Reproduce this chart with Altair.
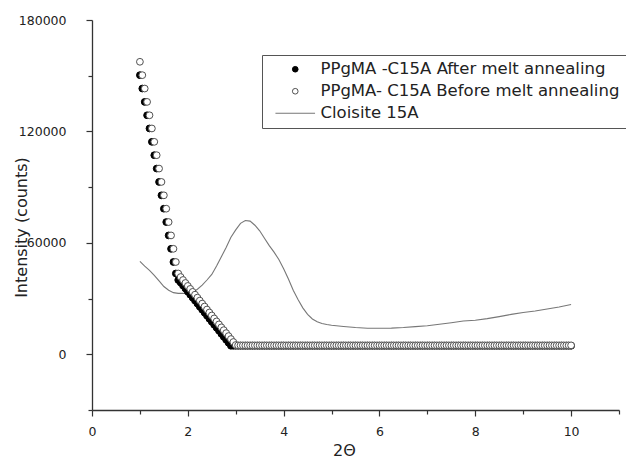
import altair as alt
import pandas as pd

# 2-theta sampling of the two PPgMA scans
two_theta = [
    1.0, 1.05, 1.1, 1.15, 1.2, 1.25, 1.3, 1.35, 1.4, 1.45, 1.5, 1.55, 1.6, 1.65, 1.7, 1.75, 1.8, 1.85, 1.9, 1.95,
    2.0, 2.05, 2.1, 2.15, 2.2, 2.25, 2.3, 2.35, 2.4, 2.45, 2.5, 2.55, 2.6, 2.65, 2.7, 2.75, 2.8, 2.85, 2.9, 2.95,
    3.0, 3.05, 3.1, 3.15, 3.2, 3.25, 3.3, 3.35, 3.4, 3.45, 3.5, 3.55, 3.6, 3.65, 3.7, 3.75, 3.8, 3.85, 3.9, 3.95,
    4.0, 4.05, 4.1, 4.15, 4.2, 4.25, 4.3, 4.35, 4.4, 4.45, 4.5, 4.55, 4.6, 4.65, 4.7, 4.75, 4.8, 4.85, 4.9, 4.95,
    5.0, 5.05, 5.1, 5.15, 5.2, 5.25, 5.3, 5.35, 5.4, 5.45, 5.5, 5.55, 5.6, 5.65, 5.7, 5.75, 5.8, 5.85, 5.9, 5.95,
    6.0, 6.05, 6.1, 6.15, 6.2, 6.25, 6.3, 6.35, 6.4, 6.45, 6.5, 6.55, 6.6, 6.65, 6.7, 6.75, 6.8, 6.85, 6.9, 6.95,
    7.0, 7.05, 7.1, 7.15, 7.2, 7.25, 7.3, 7.35, 7.4, 7.45, 7.5, 7.55, 7.6, 7.65, 7.7, 7.75, 7.8, 7.85, 7.9, 7.95,
    8.0, 8.05, 8.1, 8.15, 8.2, 8.25, 8.3, 8.35, 8.4, 8.45, 8.5, 8.55, 8.6, 8.65, 8.7, 8.75, 8.8, 8.85, 8.9, 8.95,
    9.0, 9.05, 9.1, 9.15, 9.2, 9.25, 9.3, 9.35, 9.4, 9.45, 9.5, 9.55, 9.6, 9.65, 9.7, 9.75, 9.8, 9.85, 9.9, 9.95,
    10.0,
]

after_annealing = [
    150300, 143100, 135900, 128700, 121600, 114400, 107200, 100000, 92800, 85600, 78400, 71200, 64000, 56800, 49700, 43500, 40000, 38600, 37000, 35400,
    33700, 32100, 30500, 28900, 27300, 25600, 24000, 22400, 20800, 19100, 17500, 15900, 14300, 12700, 11000, 9400, 7800, 6200, 4600, 4600,
    4600, 4600, 4600, 4600, 4600, 4600, 4600, 4600, 4600, 4600, 4600, 4600, 4600, 4600, 4600, 4600, 4600, 4600, 4600, 4600,
    4600, 4600, 4600, 4600, 4600, 4600, 4600, 4600, 4600, 4600, 4600, 4600, 4600, 4600, 4600, 4600, 4600, 4600, 4600, 4600,
    4600, 4600, 4600, 4600, 4600, 4600, 4600, 4600, 4600, 4600, 4600, 4600, 4600, 4600, 4600, 4600, 4600, 4600, 4600, 4600,
    4600, 4600, 4600, 4600, 4600, 4600, 4600, 4600, 4600, 4600, 4600, 4600, 4600, 4600, 4600, 4600, 4600, 4600, 4600, 4600,
    4600, 4600, 4600, 4600, 4600, 4600, 4600, 4600, 4600, 4600, 4600, 4600, 4600, 4600, 4600, 4600, 4600, 4600, 4600, 4600,
    4600, 4600, 4600, 4600, 4600, 4600, 4600, 4600, 4600, 4600, 4600, 4600, 4600, 4600, 4600, 4600, 4600, 4600, 4600, 4600,
    4600, 4600, 4600, 4600, 4600, 4600, 4600, 4600, 4600, 4600, 4600, 4600, 4600, 4600, 4600, 4600, 4600, 4600, 4600, 4600,
    4600,
]

before_annealing = [
    157500, 150300, 143100, 135900, 128700, 121600, 114400, 107200, 100000, 92800, 85600, 78400, 71200, 64000, 56800, 49700, 43500, 41600, 40000, 38400,
    36800, 35200, 33600, 32100, 30500, 28900, 27300, 25700, 24100, 22500, 20900, 19300, 17700, 16100, 14500, 13000, 11400, 9800, 8200, 6600,
    5000, 4800, 4800, 4800, 4800, 4800, 4800, 4800, 4800, 4800, 4800, 4800, 4800, 4800, 4800, 4800, 4800, 4800, 4800, 4800,
    4800, 4800, 4800, 4800, 4800, 4800, 4800, 4800, 4800, 4800, 4800, 4800, 4800, 4800, 4800, 4800, 4800, 4800, 4800, 4800,
    4800, 4800, 4800, 4800, 4800, 4800, 4800, 4800, 4800, 4800, 4800, 4800, 4800, 4800, 4800, 4800, 4800, 4800, 4800, 4800,
    4800, 4800, 4800, 4800, 4800, 4800, 4800, 4800, 4800, 4800, 4800, 4800, 4800, 4800, 4800, 4800, 4800, 4800, 4800, 4800,
    4800, 4800, 4800, 4800, 4800, 4800, 4800, 4800, 4800, 4800, 4800, 4800, 4800, 4800, 4800, 4800, 4800, 4800, 4800, 4800,
    4800, 4800, 4800, 4800, 4800, 4800, 4800, 4800, 4800, 4800, 4800, 4800, 4800, 4800, 4800, 4800, 4800, 4800, 4800, 4800,
    4800, 4800, 4800, 4800, 4800, 4800, 4800, 4800, 4800, 4800, 4800, 4800, 4800, 4800, 4800, 4800, 4800, 4800, 4800, 4800,
    4800,
]

cloisite_x = [
    1.0, 1.1, 1.2, 1.3, 1.4, 1.5, 1.6, 1.7, 1.8, 1.9, 2.0, 2.1, 2.2, 2.3, 2.4, 2.5, 2.6, 2.7, 2.8, 2.9,
    3.0, 3.1, 3.2, 3.3, 3.4, 3.5, 3.6, 3.7, 3.8, 3.9, 4.0, 4.1, 4.2, 4.3, 4.4, 4.5, 4.6, 4.7, 4.8, 4.9,
    5.0, 5.25, 5.5, 5.75, 6.0, 6.25, 6.5, 6.75, 7.0, 7.25, 7.5, 7.75, 8.0, 8.25, 8.5, 8.75, 9.0, 9.25, 9.5, 9.75, 10.0,
]
cloisite_y = [
    50000, 47500, 45200, 42500, 39500, 36500, 34500, 33200, 32800, 32800, 32900, 33300, 35000, 37200, 40000, 43000, 47500, 52500, 57500, 63000,
    67000, 70500, 72000, 71700, 69500, 66500, 62500, 58500, 55000, 51000, 46000, 40500, 34500, 29500, 25000, 21500, 19000, 17500, 16600, 16000,
    15600, 15000, 14400, 14000, 14000, 14100, 14400, 14900, 15400, 16200, 17000, 17900, 18300, 19200, 20300, 21500, 22500, 23300, 24400, 25500, 26800,
]

S_AFTER = "PPgMA -C15A After melt annealing"
S_BEFORE = "PPgMA- C15A Before melt annealing"
S_CLO = "Cloisite 15A"
series_order = [S_AFTER, S_BEFORE, S_CLO]

pts = pd.DataFrame({
    "x": two_theta + two_theta,
    "y": after_annealing + before_annealing,
    "series": [S_AFTER] * len(after_annealing) + [S_BEFORE] * len(before_annealing),
})
clo = pd.DataFrame({"x": cloisite_x, "y": cloisite_y, "series": S_CLO})

FONT = "DejaVu Sans"
TXT = "#222222"
AX = "#333333"

x_scale = alt.Scale(domain=[0, 11], nice=False, zero=False)
y_scale = alt.Scale(domain=[-30000, 180000], nice=False, zero=False)

x_axis = alt.Axis(
    values=[0, 1, 2, 3, 4, 5, 6, 7, 8, 9, 10, 11],
    labelExpr="datum.value % 2 === 0 && datum.value <= 10 ? datum.label : ''",
    format="d",
    grid=False,
    domainColor=AX, domainWidth=1.3,
    tickColor=AX, tickWidth=1.2,
    tickSize={"condition": {"test": "datum.value % 2 === 0", "value": 6}, "value": 4},
    labelFont=FONT, labelFontSize=12.5, labelColor=TXT, labelPadding=9,
    labelFlush=False, labelOverlap=False,
    title="2Θ", titleFont=FONT, titleFontSize=16, titleFontWeight="normal", titleColor=TXT,
    titleX=252, titleY=45, titleAlign="center", titleBaseline="alphabetic",
)
y_axis = alt.Axis(
    values=[-30000, 0, 30000, 60000, 90000, 120000, 150000, 180000],
    labelExpr="datum.value >= 0 && datum.value % 60000 === 0 ? datum.label : ''",
    format="d",
    grid=False,
    domainColor=AX, domainWidth=1.3,
    tickColor=AX, tickWidth=1.2,
    tickSize={"condition": {"test": "datum.value % 60000 === 0", "value": 6}, "value": 4},
    labelFont=FONT, labelFontSize=12.5, labelColor=TXT, labelPadding=20,
    labelFlush=False, labelOverlap=False,
    title="Intensity (counts)", titleFont=FONT, titleFontSize=16, titleFontWeight="normal", titleColor=TXT,
    titleX=-71, titleY=207, titleAngle=270, titleAlign="center", titleBaseline="middle",
)

legend = alt.Legend(
    title=None, orient="none", legendX=170, legendY=35,
    strokeColor="#555555", padding=6, fillColor="white",
    labelFont=FONT, labelFontSize=16.5, labelColor=TXT, labelLimit=600,
    labelOffset=17, symbolOffset=19, rowPadding=5,
    symbolSize=32, symbolStrokeWidth=1,
)

fill_scale = alt.Scale(domain=series_order, range=["black", "white", "transparent"])
stroke_scale = alt.Scale(domain=series_order, range=["black", "#505050", "#777777"])
shape_scale = alt.Scale(domain=series_order, range=["circle", "circle", "M-7,0H7"])

line_layer = alt.Chart(clo).mark_line(strokeWidth=1.1).encode(
    x=alt.X("x:Q", scale=x_scale, axis=x_axis),
    y=alt.Y("y:Q", scale=y_scale, axis=y_axis),
    stroke=alt.Stroke("series:N", scale=stroke_scale, legend=legend),
)

point_layer = alt.Chart(pts).mark_point(size=46, strokeWidth=1, opacity=1).encode(
    x=alt.X("x:Q", scale=x_scale, axis=x_axis),
    y=alt.Y("y:Q", scale=y_scale, axis=y_axis),
    fill=alt.Fill("series:N", scale=fill_scale, legend=legend),
    stroke=alt.Stroke("series:N", scale=stroke_scale, legend=legend),
    shape=alt.Shape("series:N", scale=shape_scale, legend=legend),
)

chart = alt.layer(line_layer, point_layer).properties(
    width=527,
    height=390,
    autosize=alt.AutoSizeParams(type="none"),
    padding={"left": 92, "top": 20, "right": 7, "bottom": 49},
    background="white",
).configure_view(strokeWidth=0)

chart.save("out.html", embed_options={"renderer": "svg", "actions": False})
